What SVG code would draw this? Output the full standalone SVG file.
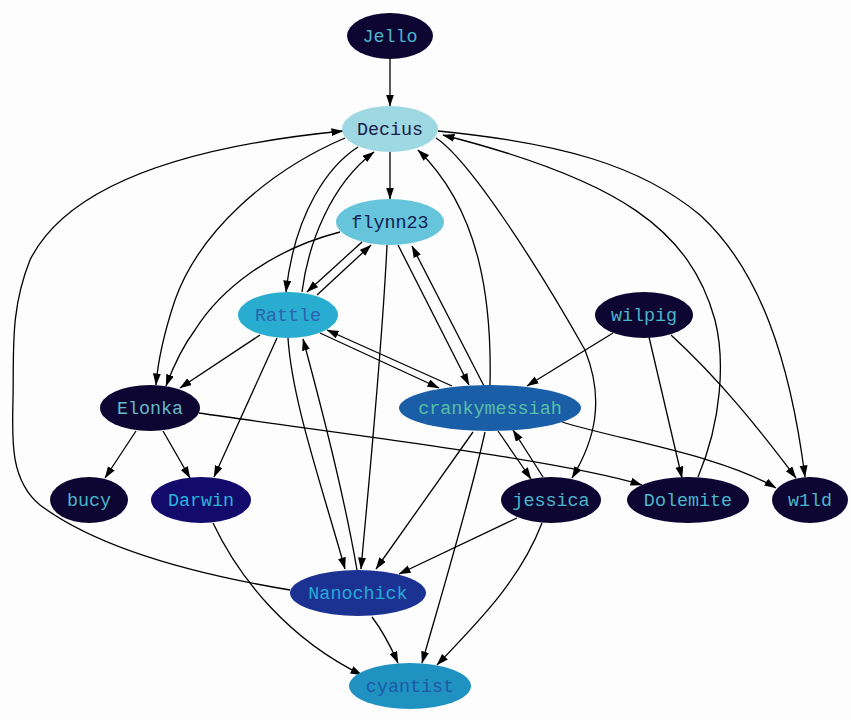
<svg xmlns="http://www.w3.org/2000/svg" width="851" height="720" viewBox="0 0 851 720">
<defs>
<marker id="ah" markerWidth="13" markerHeight="9" refX="11.5" refY="4" orient="auto" markerUnits="userSpaceOnUse">
<path d="M0,0 L12,4 L0,8 z" fill="#000"/>
</marker>
<style>
.e{fill:none;stroke:#000;stroke-width:1.3;marker-end:url(#ah)}
text{font-family:"Liberation Mono","Courier New",monospace;font-size:18.4px;text-anchor:middle}
.dk{fill:#0d0633}
.tdk{fill:#4cb5c8}
</style>
</defs>
<rect width="851" height="720" fill="#fdfdfd"/>
<g id="edges">
<path class="e" d="M390,59 L390,106"/>
<path class="e" d="M390,152 L390,199"/>
<path class="e" d="M358,147 C330,165 295,210 286,292"/>
<path class="e" d="M302,292 C308,245 330,185 374,152"/>
<path class="e" d="M345,138 C270,170 200,230 175,300 C165,330 158,360 156,385"/>
<path class="e" d="M340,232 C270,250 220,290 195,330 C180,350 172,370 166,386"/>
<path class="e" d="M290,590 C200,575 100,550 40,505 C10,480 12,440 13,400 C14,350 10,310 30,260 C70,180 200,145 343,131"/>
<path class="e" d="M362,242 L307,292"/>
<path class="e" d="M317,295 L371,245"/>
<path class="e" d="M260,335 L180,388"/>
<path class="e" d="M277,338 L214,477"/>
<path class="e" d="M288,338 C292,400 320,480 345,569"/>
<path class="e" d="M357,570 C345,500 325,420 303,339"/>
<path class="e" d="M387,245 C382,350 370,470 361,569"/>
<path class="e" d="M398,245 L469,385"/>
<path class="e" d="M484,386 L412,246"/>
<path class="e" d="M320,333 L439,388"/>
<path class="e" d="M452,386 L327,330"/>
<path class="e" d="M490,385 C492,300 480,210 418,150"/>
<path class="e" d="M436,138 C470,160 540,270 585,350 C605,400 595,440 572,478"/>
<path class="e" d="M438,131 C560,143 640,165 700,215 C760,270 790,360 805,477"/>
<path class="e" d="M698,477 C722,420 725,360 715,320 C690,230 620,180 443,135"/>
<path class="e" d="M613,333 L527,386"/>
<path class="e" d="M649,337 L682,478"/>
<path class="e" d="M671,335 C720,380 760,430 796,478"/>
<path class="e" d="M562,422 C620,440 720,455 776,488"/>
<path class="e" d="M199,413 C350,435 560,460 642,485"/>
<path class="e" d="M136,431 L105,478"/>
<path class="e" d="M163,431 L190,478"/>
<path class="e" d="M498,431 L531,479"/>
<path class="e" d="M543,477 L513,430"/>
<path class="e" d="M473,432 L376,569"/>
<path class="e" d="M485,432 C470,500 440,600 422,663"/>
<path class="e" d="M517,518 L399,574"/>
<path class="e" d="M542,523 C520,580 480,620 437,665"/>
<path class="e" d="M372,617 C382,630 390,645 398,663"/>
<path class="e" d="M213,523 C240,580 290,640 362,675"/>
</g>
<g id="Jello"><ellipse class="dk" cx="390" cy="36" rx="43" ry="23"/><text class="tdk" x="390" y="42">Jello</text></g>
<g id="Decius"><ellipse cx="390" cy="129" rx="48" ry="23" fill="#9dd8e3"/><text x="390" y="135" fill="#1b1b4b">Decius</text></g>
<g id="flynn23"><ellipse cx="390" cy="222" rx="54" ry="23" fill="#66c5da"/><text x="390" y="228" fill="#102050">flynn23</text></g>
<g id="Rattle"><ellipse cx="288" cy="315" rx="50" ry="23" fill="#28add0"/><text x="288" y="321" fill="#2c62b0">Rattle</text></g>
<g id="wilpig"><ellipse class="dk" cx="644" cy="315" rx="49" ry="23"/><text class="tdk" x="644" y="321">wilpig</text></g>
<g id="Elonka"><ellipse class="dk" cx="150" cy="408" rx="50" ry="23"/><text x="150" y="414" fill="#66b9c6">Elonka</text></g>
<g id="crankymessiah"><ellipse cx="490" cy="408" rx="91" ry="23" fill="#1b5ea8"/><text x="490" y="414" fill="#58bfa6">crankymessiah</text></g>
<g id="bucy"><ellipse class="dk" cx="89" cy="500" rx="39" ry="23"/><text class="tdk" x="89" y="506">bucy</text></g>
<g id="Darwin"><ellipse cx="201" cy="500" rx="50" ry="23" fill="#130b6b"/><text x="201" y="506" fill="#28b5d8">Darwin</text></g>
<g id="jessica"><ellipse class="dk" cx="551" cy="500" rx="50" ry="23"/><text class="tdk" x="551" y="506">jessica</text></g>
<g id="Dolemite"><ellipse class="dk" cx="688" cy="500" rx="61" ry="23"/><text class="tdk" x="688" y="506">Dolemite</text></g>
<g id="w1ld"><ellipse class="dk" cx="810" cy="500" rx="38" ry="23"/><text class="tdk" x="810" y="506">w1ld</text></g>
<g id="Nanochick"><ellipse cx="358" cy="593" rx="68" ry="23" fill="#1c3293"/><text x="358" y="599" fill="#25a9d9">Nanochick</text></g>
<g id="cyantist"><ellipse cx="410" cy="686" rx="61" ry="23" fill="#1f92c2"/><text x="410" y="692" fill="#1d5aa5">cyantist</text></g>
</svg>
